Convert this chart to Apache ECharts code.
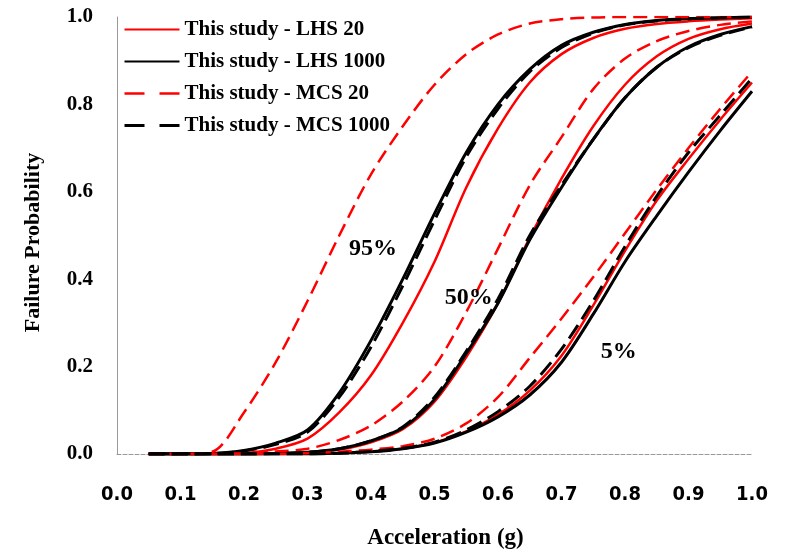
<!DOCTYPE html>
<html>
<head>
<meta charset="utf-8">
<script src="https://cdn.jsdelivr.net/npm/echarts@6/dist/echarts.min.js"></script>
<style>html,body{margin:0;padding:0;background:#fff}#c{width:786px;height:555px}</style>
</head>
<body>
<div id="c"></div>
<script>
// Acceleration (g)
var accel = [0.05,0.10,0.15,0.20,0.25,0.30,0.35,0.40,0.45,0.50,0.55,0.60,0.65,0.70,0.75,0.80,0.85,0.90,0.95,1.00];
var xTicks = ['0.0','0.1','0.2','0.3','0.4','0.5','0.6','0.7','0.8','0.9','1.0'];
var legendNames = ['This study - LHS 20','This study - LHS 1000','This study - MCS 20','This study - MCS 1000'];

// 95% curves
var lhs20_95   = [0,0,0,0.002,0.012,0.035,0.095,0.18,0.30,0.44,0.61,0.745,0.85,0.915,0.952,0.973,0.984,0.99,0.994,0.997];
var lhs1000_95 = [0,0,0.001,0.008,0.025,0.055,0.14,0.26,0.40,0.55,0.69,0.80,0.88,0.935,0.965,0.983,0.992,0.996,0.998,1.0];
var mcs20_95   = [0,0,0.005,0.095,0.21,0.35,0.50,0.64,0.75,0.845,0.915,0.96,0.985,0.995,0.999,1,1,1,1,1];
var mcs1000_95 = [0,0,0.001,0.007,0.022,0.05,0.13,0.245,0.385,0.535,0.68,0.79,0.875,0.93,0.963,0.982,0.991,0.996,0.998,1.0];
// 50% curves
var lhs20_50   = [0,0,0,0,0.001,0.003,0.01,0.027,0.057,0.12,0.222,0.345,0.495,0.63,0.75,0.845,0.91,0.95,0.972,0.985];
var lhs1000_50 = [0,0,0,0,0.001,0.004,0.012,0.03,0.06,0.125,0.23,0.345,0.49,0.61,0.72,0.815,0.885,0.932,0.96,0.978];
var mcs20_50   = [0,0,0,0.002,0.006,0.012,0.032,0.065,0.12,0.20,0.325,0.47,0.615,0.725,0.835,0.905,0.945,0.968,0.982,0.99];
var mcs1000_50 = [0,0,0,0,0.001,0.004,0.012,0.03,0.062,0.13,0.235,0.355,0.5,0.615,0.72,0.815,0.885,0.93,0.958,0.977];
// 5% curves
var lhs20_5    = [0,0,0,0,0,0,0.002,0.005,0.012,0.026,0.052,0.09,0.145,0.225,0.34,0.465,0.58,0.675,0.765,0.85];
var lhs1000_5  = [0,0,0,0,0,0,0.002,0.005,0.012,0.025,0.05,0.085,0.135,0.21,0.32,0.44,0.545,0.645,0.74,0.83];
var mcs20_5    = [0,0,0,0,0,0.002,0.005,0.01,0.018,0.035,0.07,0.13,0.22,0.31,0.405,0.505,0.605,0.70,0.79,0.875];
var mcs1000_5  = [0,0,0,0,0,0,0.002,0.006,0.013,0.027,0.055,0.097,0.155,0.24,0.35,0.475,0.59,0.69,0.775,0.86];

// curve annotations [x, y, text]
var labelNotes = [[0.403,0.47,'95%'],[0.554,0.357,'50%'],[0.79,0.233,'5%']];

function pairs(ys){ return accel.map(function(x,i){ return [x, ys[i]]; }); }

var styles = {
  'This study - LHS 20':   {color:'#ff0000', width:2.5, type:'solid'},
  'This study - LHS 1000': {color:'#000000', width:3, type:'solid'},
  'This study - MCS 20':   {color:'#ff0000', width:2.5, type:[14,7]},
  'This study - MCS 1000': {color:'#000000', width:3, type:[16,7]}
};
var groups = [
  [lhs20_95, lhs1000_95, mcs20_95, mcs1000_95],
  [lhs20_50, lhs1000_50, mcs20_50, mcs1000_50],
  [lhs20_5,  lhs1000_5,  mcs20_5,  mcs1000_5]
];
var series = [];
legendNames.forEach(function(nm, k){
  groups.forEach(function(g){
    var s = styles[nm];
    series.push({
      name: nm, type:'line', data: pairs(g[k]), showSymbol:false, symbol:'none',
      smooth:0.3,
      lineStyle:{color:s.color, width:s.width, type:s.type},
      itemStyle:{color:s.color}, z: 2+k
    });
  });
});
var serif = '"Liberation Serif","Times New Roman",serif';
series.push({
  type:'scatter', data: labelNotes, symbolSize:0, silent:true, z:10,
  itemStyle:{opacity:1},
  label:{show:true, position:'inside', formatter:function(p){return p.value[2];},
    fontFamily:serif, fontWeight:'bold', fontSize:24, color:'#000', opacity:1, textBorderWidth:0}
});

var legendData = legendNames.map(function(nm){
  var s = styles[nm];
  var item = {name: nm};
  if (s.type !== 'solid') item.lineStyle = {type:[20,15], width:s.width, color:s.color};
  return item;
});

var chart = echarts.init(document.getElementById('c'));
chart.setOption({
  animation:false,
  backgroundColor:'#fff',
  grid:{left:117, right:34, top:17, bottom:95},
  legend:{
    data: legendData, orient:'vertical', left:123, top:19, padding:0,
    itemWidth:55, itemHeight:14, itemGap:11,
    itemStyle:{opacity:0},
    textStyle:{fontFamily:serif, fontWeight:'bold', fontSize:21, color:'#000', lineHeight:21}
  },
  xAxis:{
    type:'value', min:0, max:1, interval:0.1,
    name:'Acceleration (g)', nameLocation:'middle', nameGap:73,
    nameTextStyle:{fontFamily:serif, fontWeight:'bold', fontSize:23, color:'#000', padding:[0,0,0,22]},
    axisLine:{lineStyle:{color:'#999', type:'dashed', width:1}},
    axisTick:{show:false}, splitLine:{show:false},
    axisLabel:{margin:31, color:'#000', fontWeight:'bold', fontSize:20,
      fontFamily:'"DejaVu Sans Condensed","Liberation Sans Narrow","Arial Narrow",sans-serif',
      formatter:function(v){ return xTicks[Math.round(v*10)]; }}
  },
  yAxis:{
    type:'value', min:0, max:1, interval:0.2,
    name:'Failure Probability', nameLocation:'middle', nameGap:73, nameRotate:90,
    nameTextStyle:{fontFamily:serif, fontWeight:'bold', fontSize:22, color:'#000', padding:[0,14,0,0]},
    axisLine:{show:true, lineStyle:{color:'#999', width:1}},
    axisTick:{show:false}, splitLine:{show:false},
    axisLabel:{margin:24, color:'#000', fontWeight:'bold', fontSize:21, fontFamily:serif,
      formatter:function(v){ return v.toFixed(1); }}
  },
  series: series
});
</script>
</body>
</html>
